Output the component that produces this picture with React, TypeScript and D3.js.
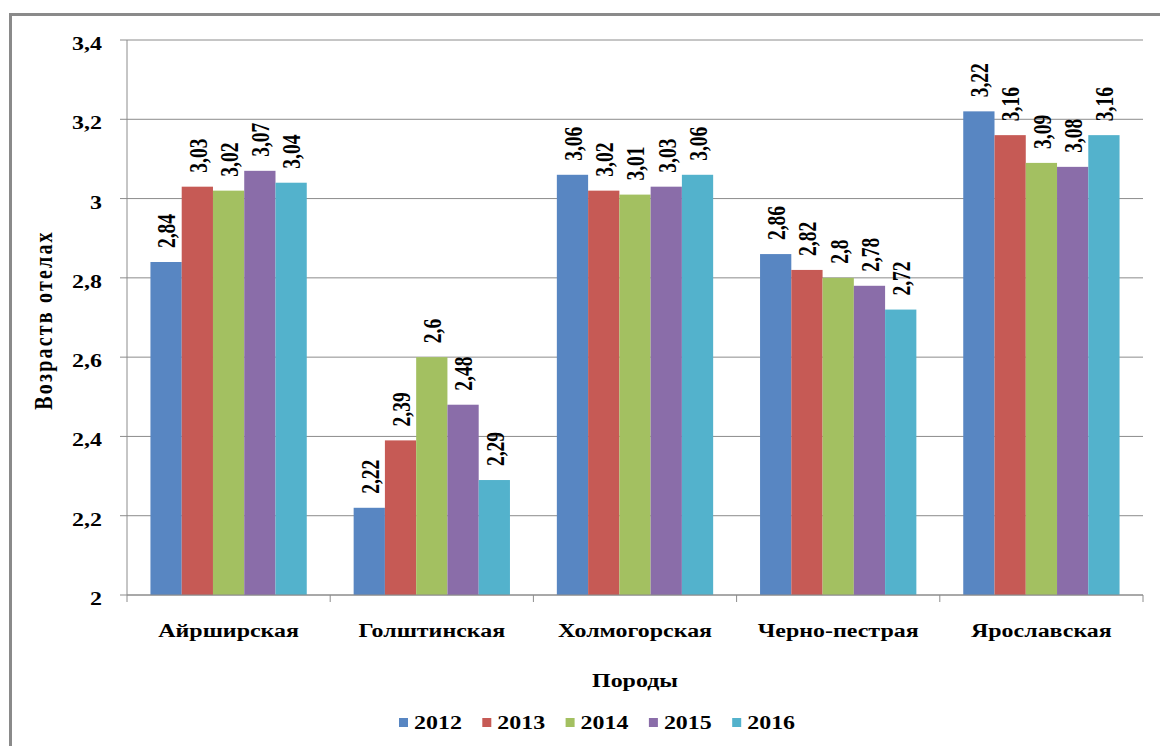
import React from "react";
import * as d3 from "d3";

const categories = ["Айрширская", "Голштинская", "Холмогорская", "Черно-пестрая", "Ярославская"];
const years = ["2012", "2013", "2014", "2015", "2016"];
const v2012 = [2.84, 2.22, 3.06, 2.86, 3.22];
const v2013 = [3.03, 2.39, 3.02, 2.82, 3.16];
const v2014 = [3.02, 2.6, 3.01, 2.8, 3.09];
const v2015 = [3.07, 2.48, 3.03, 2.78, 3.08];
const v2016 = [3.04, 2.29, 3.06, 2.72, 3.16];
const seriesValues = [v2012, v2013, v2014, v2015, v2016];
const yTicks = [2, 2.2, 2.4, 2.6, 2.8, 3, 3.2, 3.4];
const colors = ["#5886C2", "#C65A55", "#A3C061", "#8A6DA9", "#53B2CC"];
const yTitle = "Возраств отелах";
const xTitle = "Породы";

const W = 1160;
const H = 746;
const left = 127;
const right = 1143;
const top = 40;
const bottom = 595;
const SX = 1.26;
const FONT = "'Liberation Serif', 'Times New Roman', serif";
const GRID = "#8c8c8c";

const fmt = (v: number) => String(v).replace(".", ",");

export default function App() {
  const x0 = d3.scaleBand<string>().domain(categories).range([left, right]).paddingInner(0).paddingOuter(0);
  const x1 = d3
    .scaleBand<string>()
    .domain(years)
    .range([0, x0.bandwidth()])
    .paddingInner(0)
    .paddingOuter(0.75);
  const y = d3.scaleLinear().domain([2, 3.4]).range([bottom, top]);

  const boundaries = categories.map((c) => x0(c) as number).concat([right]);

  const legendStep = 83.3;
  const legendStart = 399;

  return (
    <svg
      width={W}
      height={H}
      style={{ position: "absolute", left: 0, top: 0, background: "#fff" }}
      fontFamily={FONT}
      fontWeight="bold"
    >
      <rect x={0} y={0} width={W} height={H} fill="#fff" />
      <rect x={10.5} y={14.5} width={W + 10} height={H + 10} fill="none" stroke="#8a8a8a" strokeWidth={3} />

      {/* gridlines */}
      {yTicks.map((t) => (
        <line key={"g" + t} x1={left - 7} x2={right} y1={y(t)} y2={y(t)} stroke={GRID} strokeWidth={1} />
      ))}
      {/* y axis */}
      <line x1={left} x2={left} y1={top} y2={bottom} stroke={GRID} strokeWidth={1} />
      {/* x ticks */}
      {boundaries.map((b, i) => (
        <line key={"xt" + i} x1={b} x2={b} y1={bottom} y2={bottom + 7} stroke={GRID} strokeWidth={1} />
      ))}

      {/* y tick labels */}
      {yTicks.map((t) => (
        <g key={"yl" + t} transform={`translate(${102},${y(t) + 10}) scale(${SX},1)`}>
          <text textAnchor="end" fontSize={19} fill="#000">
            {fmt(t)}
          </text>
        </g>
      ))}

      {/* bars */}
      {categories.map((c, ci) => (
        <g key={c} transform={`translate(${x0(c)},0)`}>
          {years.map((yr, si) => {
            const v = seriesValues[si][ci];
            const bx = x1(yr) as number;
            const bw = x1.bandwidth();
            return (
              <g key={yr}>
                <rect x={bx} y={y(v)} width={bw} height={bottom - y(v)} fill={colors[si]} />
                <g transform={`translate(${bx + bw / 2 + 1},${y(v) - 14}) scale(${SX},1) rotate(-90)`}>
                  <text textAnchor="start" dominantBaseline="central" fontSize={19.5} fill="#000">
                    {fmt(v)}
                  </text>
                </g>
              </g>
            );
          })}
        </g>
      ))}

      {/* x axis line */}
      <line x1={left} x2={right} y1={bottom} y2={bottom} stroke={GRID} strokeWidth={1} />

      {/* category labels */}
      {categories.map((c) => (
        <g key={"cl" + c} transform={`translate(${(x0(c) as number) + x0.bandwidth() / 2},${637}) scale(${SX},1)`}>
          <text textAnchor="middle" fontSize={19} fill="#000">
            {c}
          </text>
        </g>
      ))}

      {/* axis titles */}
      <g transform={`translate(${(left + right) / 2},${687}) scale(${SX},1)`}>
        <text textAnchor="middle" fontSize={19} fill="#000">
          {xTitle}
        </text>
      </g>
      <g transform={`translate(${44},${320}) scale(${SX},1) rotate(-90)`}>
        <text textAnchor="middle" dominantBaseline="central" fontSize={20} letterSpacing={2.2} fill="#000">
          {yTitle}
        </text>
      </g>

      {/* legend */}
      {years.map((yr, i) => {
        const lx = legendStart + i * legendStep;
        return (
          <g key={"lg" + yr}>
            <rect x={lx} y={718} width={9} height={9} fill={colors[i]} />
            <g transform={`translate(${lx + 15},${729}) scale(${SX},1)`}>
              <text fontSize={19} fill="#000">
                {yr}
              </text>
            </g>
          </g>
        );
      })}
    </svg>
  );
}
